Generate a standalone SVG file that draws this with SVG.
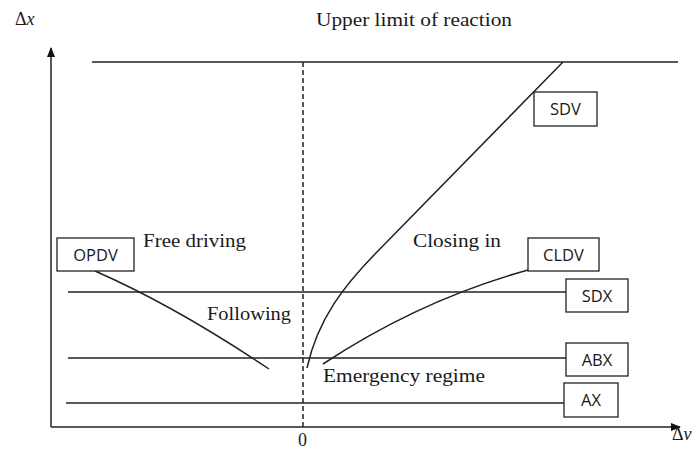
<svg xmlns="http://www.w3.org/2000/svg" width="697" height="449" viewBox="0 0 697 449">
<style>
.ln{stroke:#222;stroke-width:1.5;fill:none}
.bx{stroke:#222;stroke-width:1.3;fill:#fff}
.lab{font-family:"Liberation Serif","Times New Roman",serif;font-size:18px;fill:#1a1a1a}
.bt{font-family:"Open Sans","Liberation Sans",Arial,sans-serif;font-size:16.5px;fill:#1a1a1a;text-anchor:middle}
</style>
<defs>
<marker id="ah" markerWidth="10" markerHeight="10" refX="9" refY="5" orient="auto" markerUnits="userSpaceOnUse">
<path d="M0,1 L10,5 L0,9 Z" fill="#111"/>
</marker>
</defs>
<rect width="697" height="449" fill="#fff"/>
<g id="axes">
<line class="ln" x1="51" y1="427" x2="51" y2="48" marker-end="url(#ah)"/>
<line class="ln" x1="51" y1="427" x2="680" y2="427" marker-end="url(#ah)"/>
<line class="ln" x1="303" y1="62" x2="303" y2="427" stroke-dasharray="5,3"/>
<text class="lab" x="15" y="25">Δ<tspan font-style="italic">x</tspan></text>
<text class="lab" x="672" y="440">Δ<tspan font-style="italic">v</tspan></text>
<text class="lab" x="298" y="446">0</text>
</g>
<g id="connectors">
<line class="ln" x1="92" y1="62" x2="678" y2="62"/>
<line class="ln" x1="68" y1="292" x2="566" y2="292"/>
<line class="ln" x1="68" y1="358" x2="566" y2="358"/>
<line class="ln" x1="66" y1="403" x2="564" y2="403"/>
<path class="ln" d="M307,368 C318,318 345,285 375,254 L563,62"/>
<path class="ln" d="M95,271 Q175,306 269,369"/>
<path class="ln" d="M323,364 Q420,300 528,270"/>
</g>
<g id="labels">
<text class="lab" x="316" y="26" textLength="196" lengthAdjust="spacingAndGlyphs">Upper limit of reaction</text>
<text class="lab" x="143" y="247" textLength="103" lengthAdjust="spacingAndGlyphs">Free driving</text>
<text class="lab" x="207" y="320" textLength="84" lengthAdjust="spacingAndGlyphs">Following</text>
<text class="lab" x="413" y="247" textLength="88" lengthAdjust="spacingAndGlyphs">Closing in</text>
<text class="lab" x="323" y="382" textLength="162" lengthAdjust="spacingAndGlyphs">Emergency regime</text>
</g>
<g id="SDV"><rect class="bx" x="534" y="92" width="63" height="34"/><text class="bt" x="565.5" y="115">SDV</text></g>
<g id="OPDV"><rect class="bx" x="57" y="238" width="77" height="33"/><text class="bt" x="95.5" y="260.5">OPDV</text></g>
<g id="CLDV"><rect class="bx" x="528" y="238" width="71" height="33"/><text class="bt" x="563.5" y="260.5">CLDV</text></g>
<g id="SDX"><rect class="bx" x="566" y="279" width="62" height="33"/><text class="bt" x="597" y="301.5">SDX</text></g>
<g id="ABX"><rect class="bx" x="566" y="343" width="62" height="33"/><text class="bt" x="597" y="365.5">ABX</text></g>
<g id="AX"><rect class="bx" x="564" y="383" width="54" height="34"/><text class="bt" x="591" y="406">AX</text></g>
</svg>
